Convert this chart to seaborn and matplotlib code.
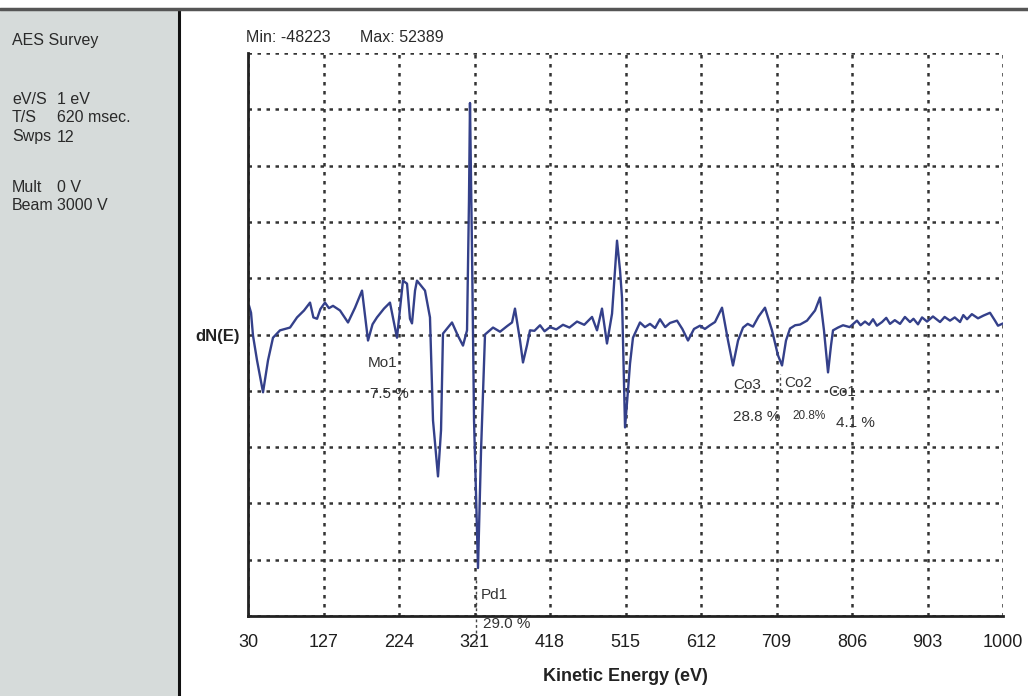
import numpy as np
import pandas as pd
import matplotlib
matplotlib.use("Agg")
import matplotlib.pyplot as plt
import matplotlib.transforms as mtransforms
from matplotlib.patches import Rectangle
from matplotlib.lines import Line2D
import seaborn as sns

# AES survey spectrum
energy = [31.3, 33.9, 36.4, 41.6, 49.3, 55.7, 62.1, 71.1, 84.0, 93.0,
          102.0, 109.7, 114.0, 118.7, 123.0, 128.9, 134.0, 139.2, 148.2, 158.5,
          167.5, 176.5, 184.2, 190.0, 195.7, 204.7, 212.4, 221.4, 229.1, 234.3,
          238.1, 240.7, 244.6, 247.1, 257.4, 263.8, 267.7, 274.1, 278.0, 280.5,
          292.1, 299.8, 306.2, 311.4, 313.9, 315.2, 317.8, 320.4, 325.5, 329.4,
          334.5, 344.8, 353.8, 362.8, 369.2, 373.0, 379.5, 383.3, 388.5, 392.3,
          398.0, 405.2, 411.0, 418.0, 426.0, 434.7, 443.0, 452.7, 462.0, 472.0,
          478.4, 484.8, 491.2, 497.7, 501.5, 504.1, 508.0, 510.5, 514.4, 518.2,
          520.8, 524.6, 533.6, 540.0, 546.5, 553.0, 559.3, 566.0, 572.2, 581.2,
          588.0, 595.3, 603.0, 610.7, 617.0, 623.6, 630.0, 639.0, 646.7, 653.1,
          659.6, 666.0, 672.0, 678.8, 686.0, 694.2, 703.2, 710.9, 716.1, 721.2,
          726.4, 733.0, 739.2, 748.2, 758.5, 764.9, 770.0, 775.2, 779.0, 781.6,
          788.0, 794.5, 803.0, 812.4, 817.0, 822.7, 828.0, 833.0, 838.0, 844.6,
          850.0, 854.8, 861.0, 867.7, 874.0, 880.5, 885.0, 890.8, 896.0, 902.4,
          910.0, 919.1, 925.0, 931.9, 938.0, 944.8, 949.0, 953.8, 960.0, 967.9,
          975.0, 983.3, 989.7, 993.6, 1000.0]
counts = [8550, 7000, 2100, -3300, -10200, -3300, 1600, 3200, 3800, 6000,
          7500, 9200, 6000, 5700, 7800, 9200, 8000, 8500, 7500, 4900,
          8100, 11800, 1000, 4500, 6000, 7900, 9200, 1600, 13950, 13300,
          5700, 4700, 11800, 13950, 11800, 6000, -16300, -28400, -18400, 2500,
          4900, 2000, -100, 3200, 31200, 52389, 20400, -16300, -48223, -22800,
          2300, 3800, 2900, 4100, 4900, 7900, 1000, -3750, 0, 3200,
          3100, 4300, 3000, 3900, 3400, 4400, 3800, 5100, 4400, 6100,
          3200, 7900, 350, 6800, 16100, 22600, 16100, 10300, -17800, -9800,
          -4000, 1600, 4900, 3900, 4600, 3700, 5600, 3900, 4800, 5300,
          3500, 1000, 3500, 4200, 3500, 4300, 5000, 8100, 1000, -4400,
          1000, 3800, 4600, 4000, 6200, 8100, 3200, -2200, -4400, 1000,
          3600, 4300, 4450, 5300, 7500, 10300, 3200, -5900, -100, 3200,
          3800, 4300, 3900, 5300, 4300, 5100, 4400, 5600, 4200, 5000,
          5900, 4600, 5400, 4600, 6100, 5000, 5700, 4500, 6000, 5100,
          6200, 5000, 6100, 5300, 6000, 5000, 6500, 5600, 6700, 5800,
          6400, 7000, 5300, 4200, 4700]

energy_ticks = [30, 127, 224, 321, 418, 515, 612, 709, 806, 903, 1000]

peak_names = ["Mo1", "Pd1", "Co3", "Co2", "Co1"]
peak_pct = ["7.5 %", "29.0 %", "28.8 %", "20.8%", "4.1 %"]

settings_keys = ["eV/S", "T/S", "Swps", "", "Mult", "Beam"]
settings_vals = ["1 eV", "620 msec.", "12", "", "0 V", "3000 V"]

df = pd.DataFrame({"energy": energy, "counts": counts})

sns.set_theme(style="white")
fam = ["Liberation Sans Narrow", "Liberation Sans", "DejaVu Sans"]
plt.rcParams["font.family"] = fam

W, H = 1028, 696
fig = plt.figure(figsize=(W / 100, H / 100), dpi=100)
fig.patch.set_facecolor("white")


def fx(x):
    return x / W


def fy(y):
    return 1 - y / H


# left settings panel
fig.patches.append(Rectangle((0, 0), fx(179), fy(10), transform=fig.transFigure,
                             facecolor="#d6dbda", edgecolor="none", zorder=0))
fig.lines.append(Line2D([fx(179), fx(179)], [0, fy(10)], transform=fig.transFigure,
                        color="#111111", lw=2.2))
fig.lines.append(Line2D([0, 1], [fy(9), fy(9)], transform=fig.transFigure,
                        color="#555555", lw=2.5))

txt = dict(color="#2a2a2a", fontsize=11.5, va="center", ha="left")
fig.text(fx(12), fy(40), "AES Survey", **txt)
rows_y = [100, 118, 137, 0, 187, 205]
for k, v, yy in zip(settings_keys, settings_vals, rows_y):
    if k:
        fig.text(fx(12), fy(yy), k, **txt)
        fig.text(fx(57), fy(yy), v, **txt)

fig.text(fx(246), fy(38), "Min: -48223", **txt)
fig.text(fx(360), fy(38), "Max: 52389", **txt)

# main spectrum axes
ax = fig.add_axes([fx(248), fy(616), fx(1003) - fx(248), fy(53) - fy(616)])
ylo, yhi = -58600, 63200
sns.lineplot(data=df, x="energy", y="counts", ax=ax, sort=False, estimator=None,
             color="#34408a", lw=1.7)
ax.set_xlim(30, 1000)
ax.set_ylim(ylo, yhi)
ax.set_xticks(energy_ticks)
ax.set_xticklabels([str(t) for t in energy_ticks], fontsize=13, color="#1e1e1e")
ax.set_yticks(np.linspace(ylo, yhi, 11))
ax.set_yticklabels([])
ax.tick_params(axis="both", length=0)
ax.tick_params(axis="x", pad=13)
ax.grid(True, color="#333333", lw=1.8, linestyle=(0, (1.4, 2.2)))
for s in ["top", "right"]:
    ax.spines[s].set_visible(False)
for s in ["left", "bottom"]:
    ax.spines[s].set_color("#222222")
    ax.spines[s].set_linewidth(2)
ax.set_xlabel("Kinetic Energy (eV)", fontsize=13, fontweight="bold",
              color="#222222", labelpad=12)
ax.set_ylabel("")
fig.text(fx(240), fy(337), "dN(E)", fontsize=12, fontweight="bold",
         color="#222222", ha="right", va="center")

# peak labels
tr = mtransforms.blended_transform_factory(ax.transData, ax.transAxes)
lab = dict(color="#333333", fontsize=11, va="center", ha="left", transform=tr)
name_pos = [(184, 0.449), (329, 0.037), (653, 0.410), (719, 0.414), (775, 0.398)]
pct_pos = [(187, 0.394), (332, -0.014), (653, 0.353), (730, 0.355), (785, 0.343)]
for i, (nm, pc) in enumerate(zip(peak_names, peak_pct)):
    ax.text(name_pos[i][0], name_pos[i][1], nm, **lab)
    size = 8.5 if nm == "Co2" else 11
    ax.text(pct_pos[i][0], pct_pos[i][1], pc, **{**lab, "fontsize": size},
            clip_on=False)
ax.plot([323, 323], [-0.05, 0.07], transform=tr, color="#444444", lw=1,
        linestyle=(0, (2, 2)), clip_on=False)
ax.plot([714, 714], [0.40, 0.43], transform=tr, color="#444444", lw=1,
        linestyle=(0, (2, 2)), clip_on=False)

fig.savefig("out.png", dpi=100)
